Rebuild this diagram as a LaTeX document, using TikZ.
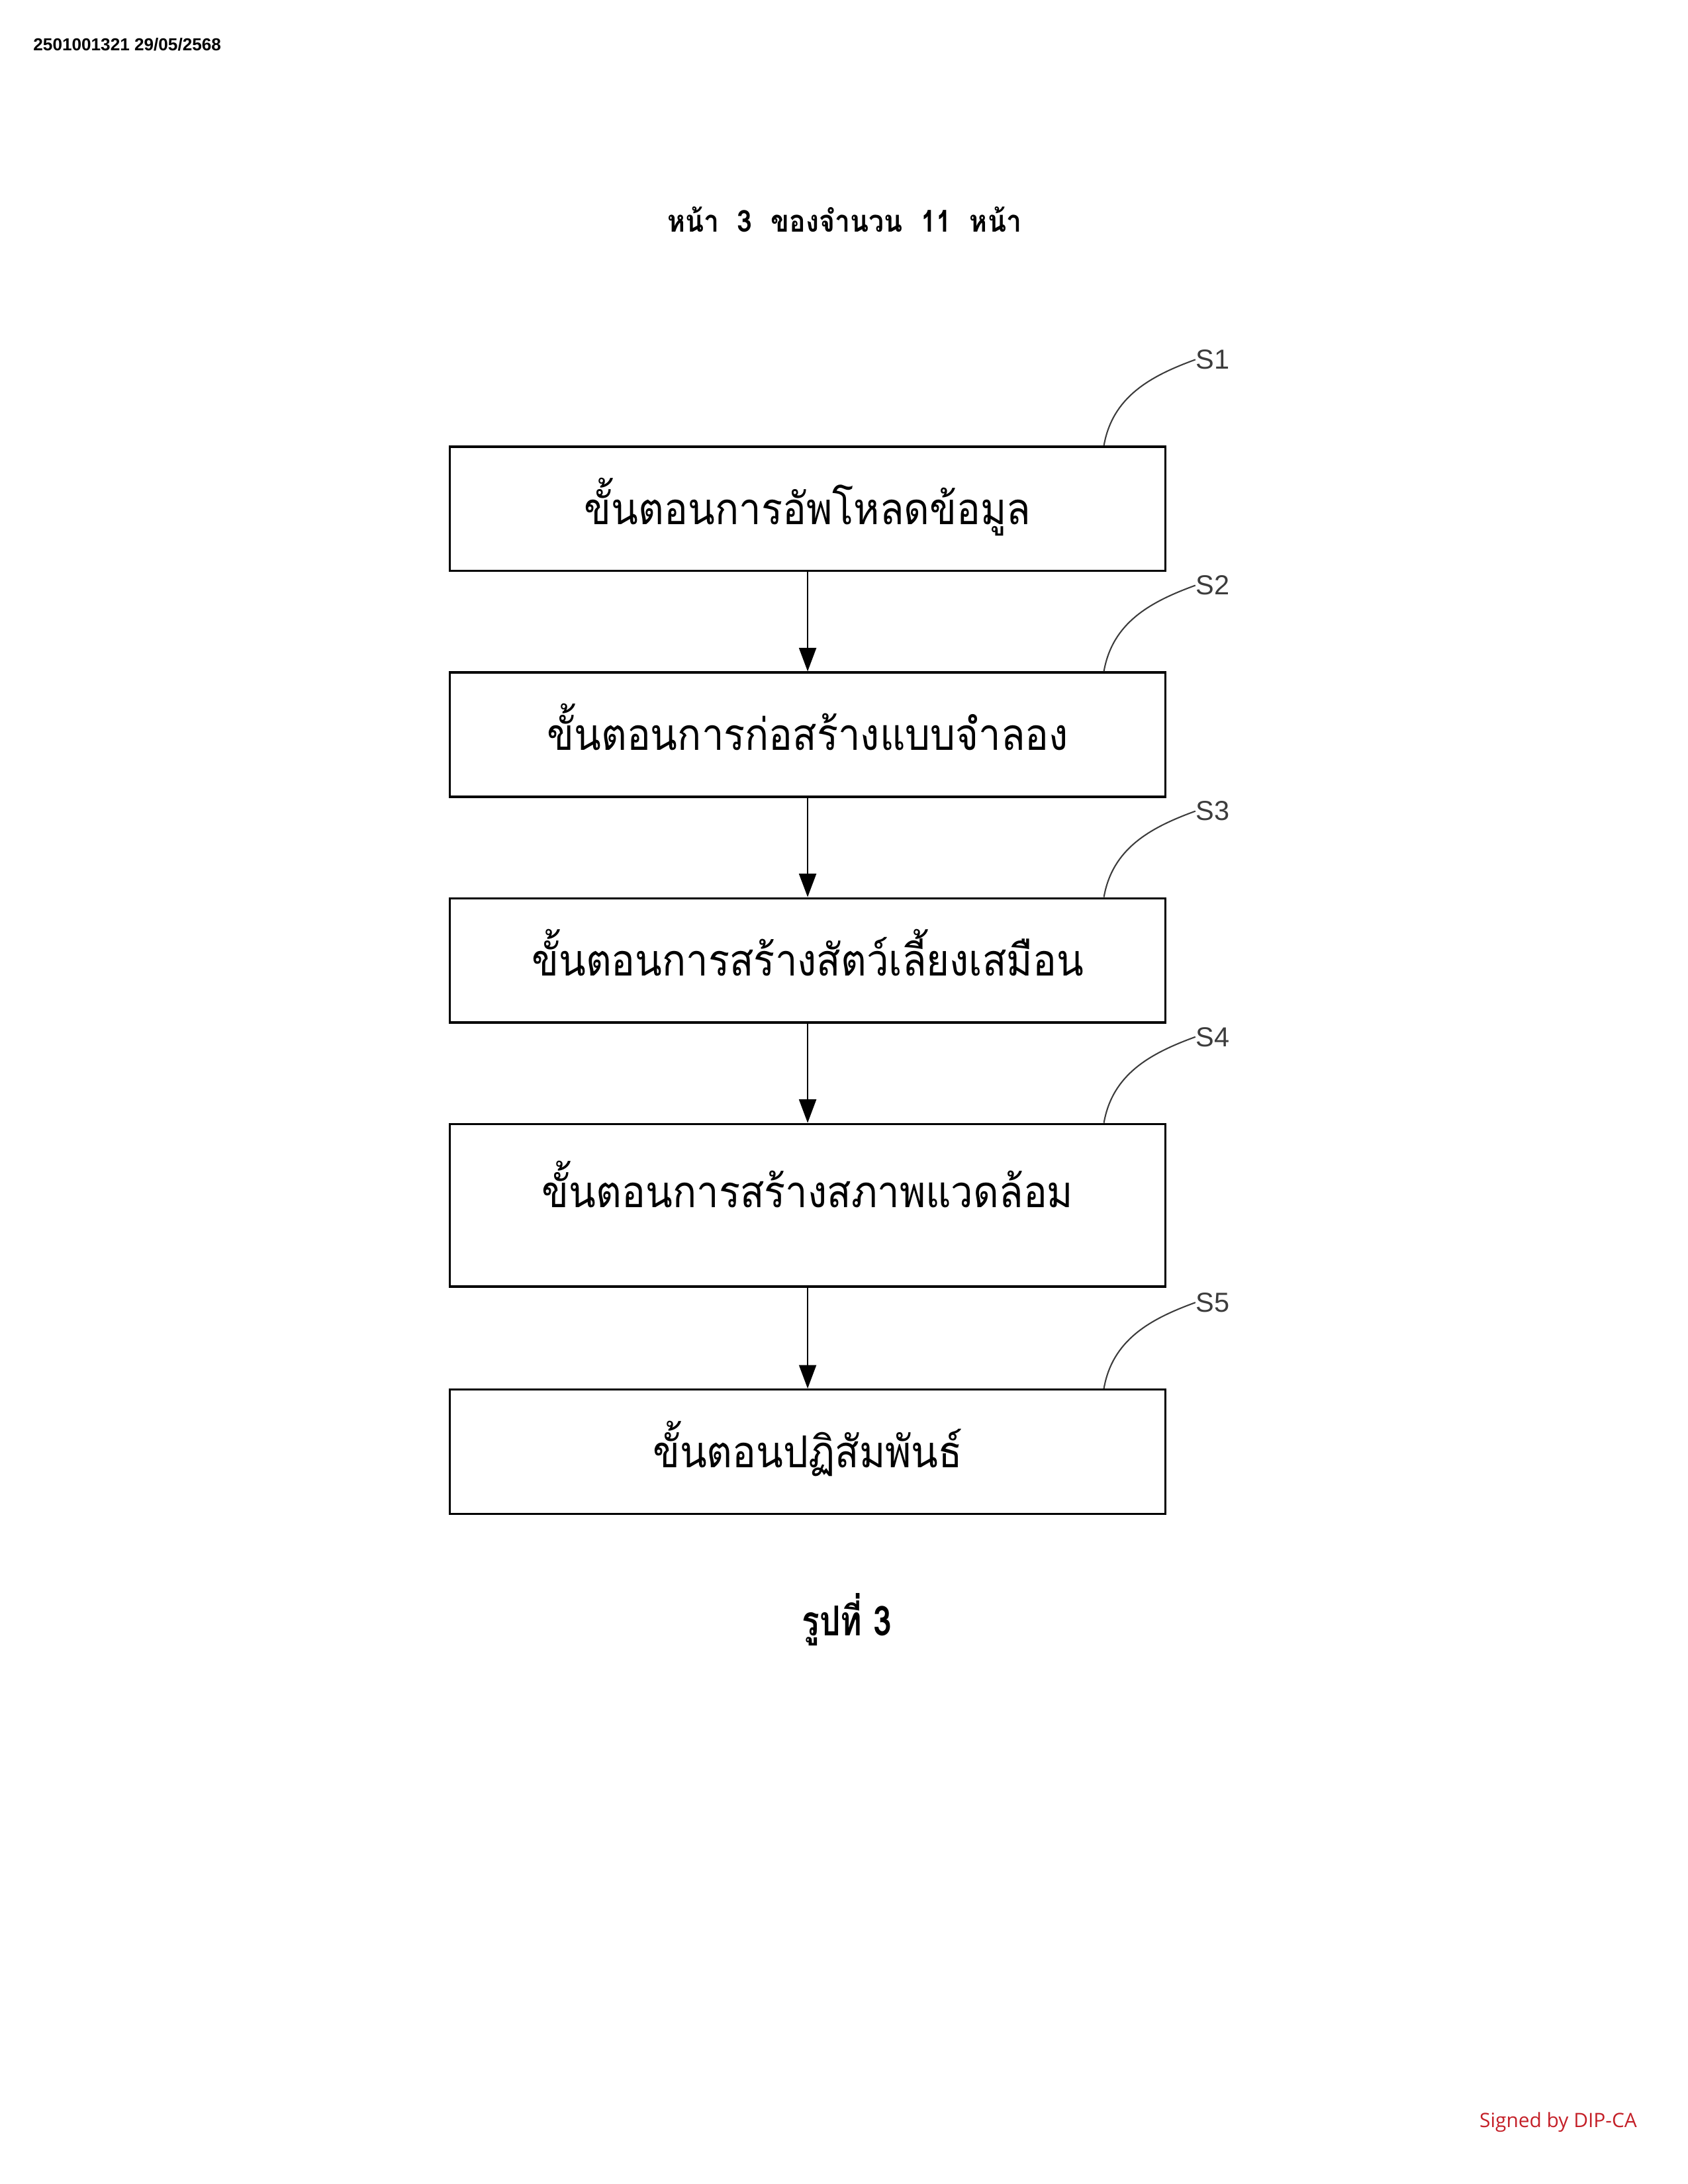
\documentclass[tikz,border=0pt]{standalone}
\usepackage{fontspec}
\setmainfont{Liberation Serif}
\newfontfamily\thaifont[Script=Thai,FakeStretch=0.9]{Loma}
\newfontfamily\thaihead[Script=Thai,FakeStretch=0.9]{Loma}
\newfontfamily\thaicap[Script=Thai,FakeStretch=0.8]{Loma}
\newfontfamily\refsans{Liberation Sans}
\newfontfamily\signfont{Open Sans}
\usetikzlibrary{arrows.meta,positioning}
\definecolor{signred}{RGB}{196,32,40}
\definecolor{refgray}{RGB}{60,60,60}

\begin{document}
\begin{tikzpicture}[>={Triangle[length=3mm,width=2.2mm]},
  stepbox/.style={draw,line width=0.8pt,minimum width=9.15cm,minimum height=1.59cm,
    inner sep=0pt,font=\thaifont\fontsize{16}{18}\selectfont,
    text height=0.55cm,text depth=0.15cm},
  reflabel/.style={anchor=west,inner sep=0pt,text=refgray,
    font=\refsans\fontsize{10}{12}\selectfont},
  refline/.style={refgray,line width=0.5pt}]
  \useasboundingbox (0,0) rectangle (21.59,27.94);
  % page header
  \node[anchor=west,inner sep=0pt,font=\refsans\bfseries\fontsize{6.3}{7}\selectfont] (stamp)
     at (0.42,27.37) {2501001321 29/05/2568};
  \node[font=\thaihead\bfseries\fontsize{11}{13}\selectfont] (pagenum) at (10.80,25.13)
     {หน้า~~3~~ของจำนวน~~11~~หน้า};
  % steps
  \node[stepbox] (s1) at (10.33,21.43) {ขั้นตอนการอัพโหลดข้อมูล};
  \node[stepbox,below=1.27cm of s1] (s2) {ขั้นตอนการก่อสร้างแบบจำลอง};
  \node[stepbox,below=1.27cm of s2] (s3) {ขั้นตอนการสร้างสัตว์เลี้ยงเสมือน};
  \node[stepbox,below=1.27cm of s3,minimum height=2.08cm,text depth=0.5cm] (s4)
     {ขั้นตอนการสร้างสภาพแวดล้อม};
  \node[stepbox,below=1.29cm of s4] (s5) {ขั้นตอนปฏิสัมพันธ์};
  \draw[->,line width=0.5pt] (s1) -- (s2);
  \draw[->,line width=0.5pt] (s2) -- (s3);
  \draw[->,line width=0.5pt] (s3) -- (s4);
  \draw[->,line width=0.5pt] (s4) -- (s5);
  % reference labels
  \node[reflabel] (l1) at ([xshift=3.7mm,yshift=11mm]s1.north east) {S1};
  \node[reflabel] (l2) at ([xshift=3.7mm,yshift=11mm]s2.north east) {S2};
  \node[reflabel] (l3) at ([xshift=3.7mm,yshift=11mm]s3.north east) {S3};
  \node[reflabel] (l4) at ([xshift=3.7mm,yshift=11mm]s4.north east) {S4};
  \node[reflabel] (l5) at ([xshift=3.7mm,yshift=11mm]s5.north east) {S5};
  \draw[refline] ([xshift=-8mm]s1.north east) to[out=80,in=200] (l1.west);
  \draw[refline] ([xshift=-8mm]s2.north east) to[out=80,in=200] (l2.west);
  \draw[refline] ([xshift=-8mm]s3.north east) to[out=80,in=200] (l3.west);
  \draw[refline] ([xshift=-8mm]s4.north east) to[out=80,in=200] (l4.west);
  \draw[refline] ([xshift=-8mm]s5.north east) to[out=80,in=200] (l5.west);
  % caption
  \node[font=\thaicap\bfseries\fontsize{15}{18}\selectfont] (fig) at (10.83,7.22) {รูปที่ 3};
  \node[font=\signfont\fontsize{7.2}{9}\selectfont,text=signred] (sign) at (19.93,0.79)
     {Signed by DIP-CA};
\end{tikzpicture}
\end{document}
